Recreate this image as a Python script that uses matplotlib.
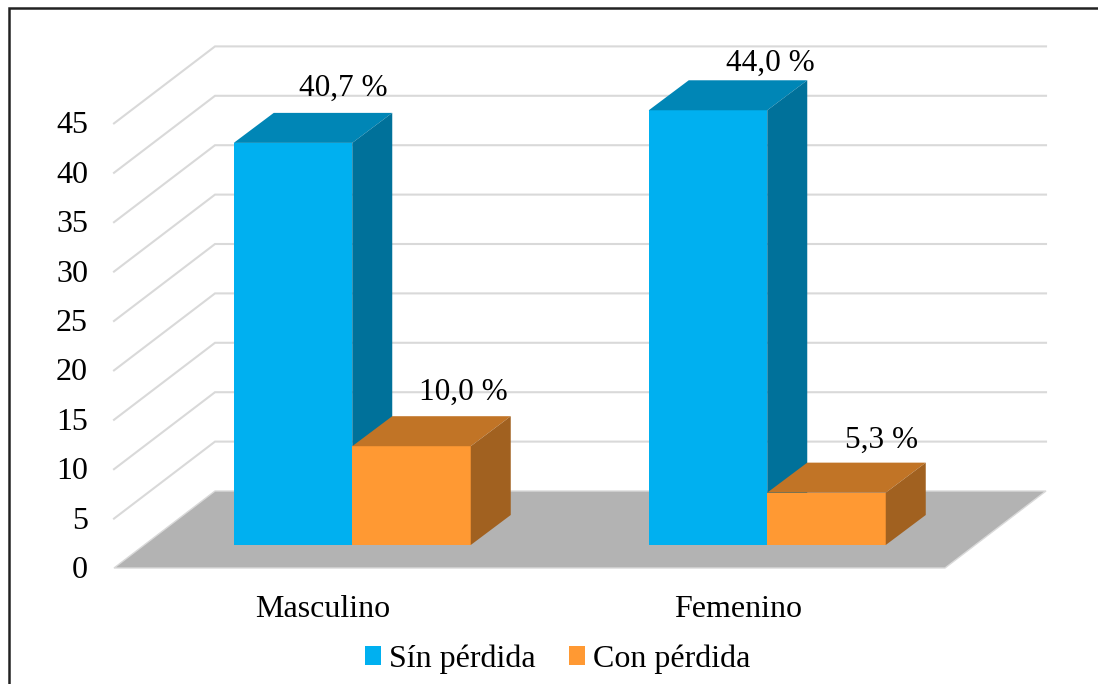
import matplotlib
matplotlib.use('Agg')
import matplotlib.pyplot as plt
from matplotlib.patches import Patch, Polygon, Rectangle

categories = ['Masculino', 'Femenino']
sin_perdida = [40.7, 44.0]
con_perdida = [10.0, 5.3]
sin_labels = ['40,7 %', '44,0 %']
con_labels = ['10,0 %', '5,3 %']
y_ticks = [0, 5, 10, 15, 20, 25, 30, 35, 40, 45]

PX = 9.88  # pixels per unit on the value axis
BAR_W = 118.5
DEPTH_X = 40
DEPTH_Y = 30 / PX
FRONT = -23 / PX  # front edge of the floor, relative to the bar base
BACK = 54 / PX  # back edge of the floor

plt.rcParams['font.family'] = ['Liberation Serif', 'DejaVu Serif']

fig = plt.figure(figsize=(10.98, 6.84), dpi=100)
ax = fig.add_axes([0, 0, 1, 1])
ax.set_xlim(0, 1098)
ax.set_ylim(-139 / PX, 545 / PX)
ax.axis('off')


def draw_box(x, value, width, front, top, side):
    ax.bar(x, value, width, color=front, linewidth=0, zorder=4)
    left = x - width / 2
    right = x + width / 2
    ax.add_patch(Polygon([(left, value), (right, value),
                          (right + DEPTH_X, value + DEPTH_Y),
                          (left + DEPTH_X, value + DEPTH_Y)],
                         facecolor=top, edgecolor='none', zorder=4))
    ax.add_patch(Polygon([(right, 0), (right + DEPTH_X, DEPTH_Y),
                          (right + DEPTH_X, value + DEPTH_Y), (right, value)],
                         facecolor=side, edgecolor='none', zorder=4))


# walls and floor
for v in y_ticks[1:]:
    ax.plot([114, 215, 1046], [v + FRONT, v + BACK, v + BACK],
            color='#D9D9D9', lw=1.5, zorder=1, solid_joinstyle='miter')
ax.add_patch(Polygon([(114, FRONT), (945, FRONT), (1046, BACK), (215, BACK)],
                     facecolor='#B3B3B3', edgecolor='#D9D9D9', lw=1, zorder=2))

for v in y_ticks:
    ax.text(88, v + FRONT + 1 / PX, str(v), ha='right', va='center_baseline', fontsize=23, color='black')

centers = [293, 708]
for i in range(2):
    draw_box(centers[i], sin_perdida[i], BAR_W, '#00B0F0', '#0086B6', '#00719A')
for i in range(2):
    draw_box(centers[i] + BAR_W, con_perdida[i], BAR_W, '#FF9933', '#C17426', '#A16120')

# value labels sit above the back of each box
sin_offsets = [(50, 58), (62, 50)]
con_offsets = [(52, 57), (55, 56)]
for i in range(2):
    dx, dy = sin_offsets[i]
    ax.text(centers[i] + dx, sin_perdida[i] + dy / PX, sin_labels[i],
            ha='center', va='center_baseline', fontsize=22.5, zorder=5)
    dx, dy = con_offsets[i]
    ax.text(centers[i] + BAR_W + dx, con_perdida[i] + dy / PX, con_labels[i],
            ha='center', va='center_baseline', fontsize=22.5, zorder=5)
    ax.text(centers[i] + 30, -61 / PX, categories[i],
            ha='center', va='center_baseline', fontsize=23)

handles = [Patch(facecolor='#00B0F0', label='Sín pérdida'),
           Patch(facecolor='#FF9933', label='Con pérdida')]
ax.legend(handles=handles, loc='center', bbox_to_anchor=(558, -114 / PX),
          bbox_transform=ax.transData, ncol=2, frameon=False, fontsize=23,
          handlelength=0.5, handleheight=0.5, handletextpad=0.25, columnspacing=1.05)

# outer frame
ax.add_patch(Rectangle((8.5, -139 / PX - 5), 1200, 545 / PX + 139 / PX + 5 - 8 / PX,
                       facecolor='none', edgecolor='#222222', lw=1.8, zorder=6))

fig.savefig('out.png', dpi=100)
